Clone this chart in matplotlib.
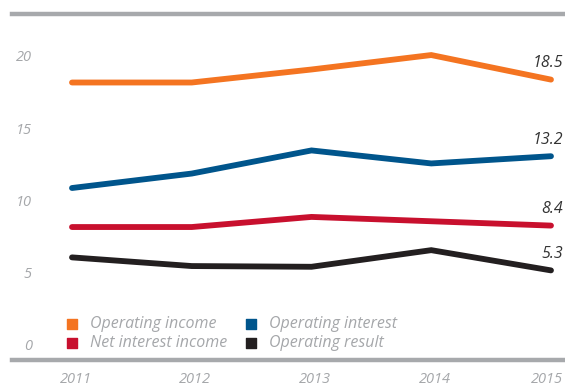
import numpy as np
import matplotlib.pyplot as plt

years = ['2011', '2012', '2013', '2014', '2015']
operating_income = [18.3, 18.3, 19.2, 20.2, 18.5]
operating_interest = [11.0, 12.0, 13.6, 12.7, 13.2]
net_interest_income = [8.3, 8.3, 9.0, 8.7, 8.4]
operating_result = [6.2, 5.6, 5.55, 6.7, 5.3]
y_ticks = [0, 5, 10, 15, 20]

ORANGE = '#F47421'
BLUE = '#00558C'
RED = '#C8102E'
BLACK = '#231F20'
GREY = '#A7A9AC'
TEXT_GREY = '#A5A7AA'

plt.rcParams['font.family'] = ['Open Sans', 'DejaVu Sans']

fig = plt.figure(figsize=(5.65, 3.85), dpi=100)
ax = fig.add_axes([12 / 565, 1 - 360 / 385, 1 - 12 / 565, 346 / 385])

x = np.arange(len(years))
series = [
    ('Operating income', operating_income, ORANGE),
    ('Operating interest', operating_interest, BLUE),
    ('Net interest income', net_interest_income, RED),
    ('Operating result', operating_result, BLACK),
]
for name, vals, col in series:
    ax.plot(x, vals, color=col, lw=4.2, solid_capstyle='round', solid_joinstyle='miter')
    ax.annotate(f'{vals[-1]:.1f}', (x[-1], vals[-1]), xytext=(9, 6), textcoords='offset points',
                ha='right', va='bottom', fontsize=11.5, style='italic', color='#333333')

ax.set_xlim(-0.501, 4.117)
ax.set_ylim(-0.9, 23.04)

# frame: only heavy grey rules top and bottom
for side in ['left', 'right']:
    ax.spines[side].set_visible(False)
for side in ['top', 'bottom']:
    ax.spines[side].set_color(GREY)
    ax.spines[side].set_linewidth(3.2)
ax.set_xticks([])
ax.set_yticks([])

trans_y = ax.get_yaxis_transform()
for t in y_ticks:
    ax.text(0.036, t, str(t), transform=trans_y, ha='right', va='center',
            fontsize=10.5, style='italic', color=TEXT_GREY)
trans_x = ax.get_xaxis_transform()
for xi, lab in zip(x, years):
    if xi == x[-1]:
        # last year sits flush against the right edge
        ax.text(0.997, -0.055, lab, transform=ax.transAxes, ha='right', va='center',
                fontsize=10.5, style='italic', color=TEXT_GREY)
    else:
        ax.text(xi + 0.03, -0.055, lab, transform=trans_x, ha='center', va='center',
                fontsize=10.5, style='italic', color=TEXT_GREY)

# legend in two columns, drawn by hand
legend_pos = [(0.1094, 0.104), (0.433, 0.104), (0.1094, 0.049), (0.433, 0.049)]
for (name, _, col), (lx, ly) in zip(series, legend_pos):
    ax.scatter([lx], [ly], marker='s', s=60, color=col, transform=ax.transAxes, clip_on=False)
    ax.text(lx + 0.032, ly, name, transform=ax.transAxes, ha='left', va='center',
            fontsize=11.5, style='italic', color=TEXT_GREY)

fig.savefig('out.png', dpi=100)
